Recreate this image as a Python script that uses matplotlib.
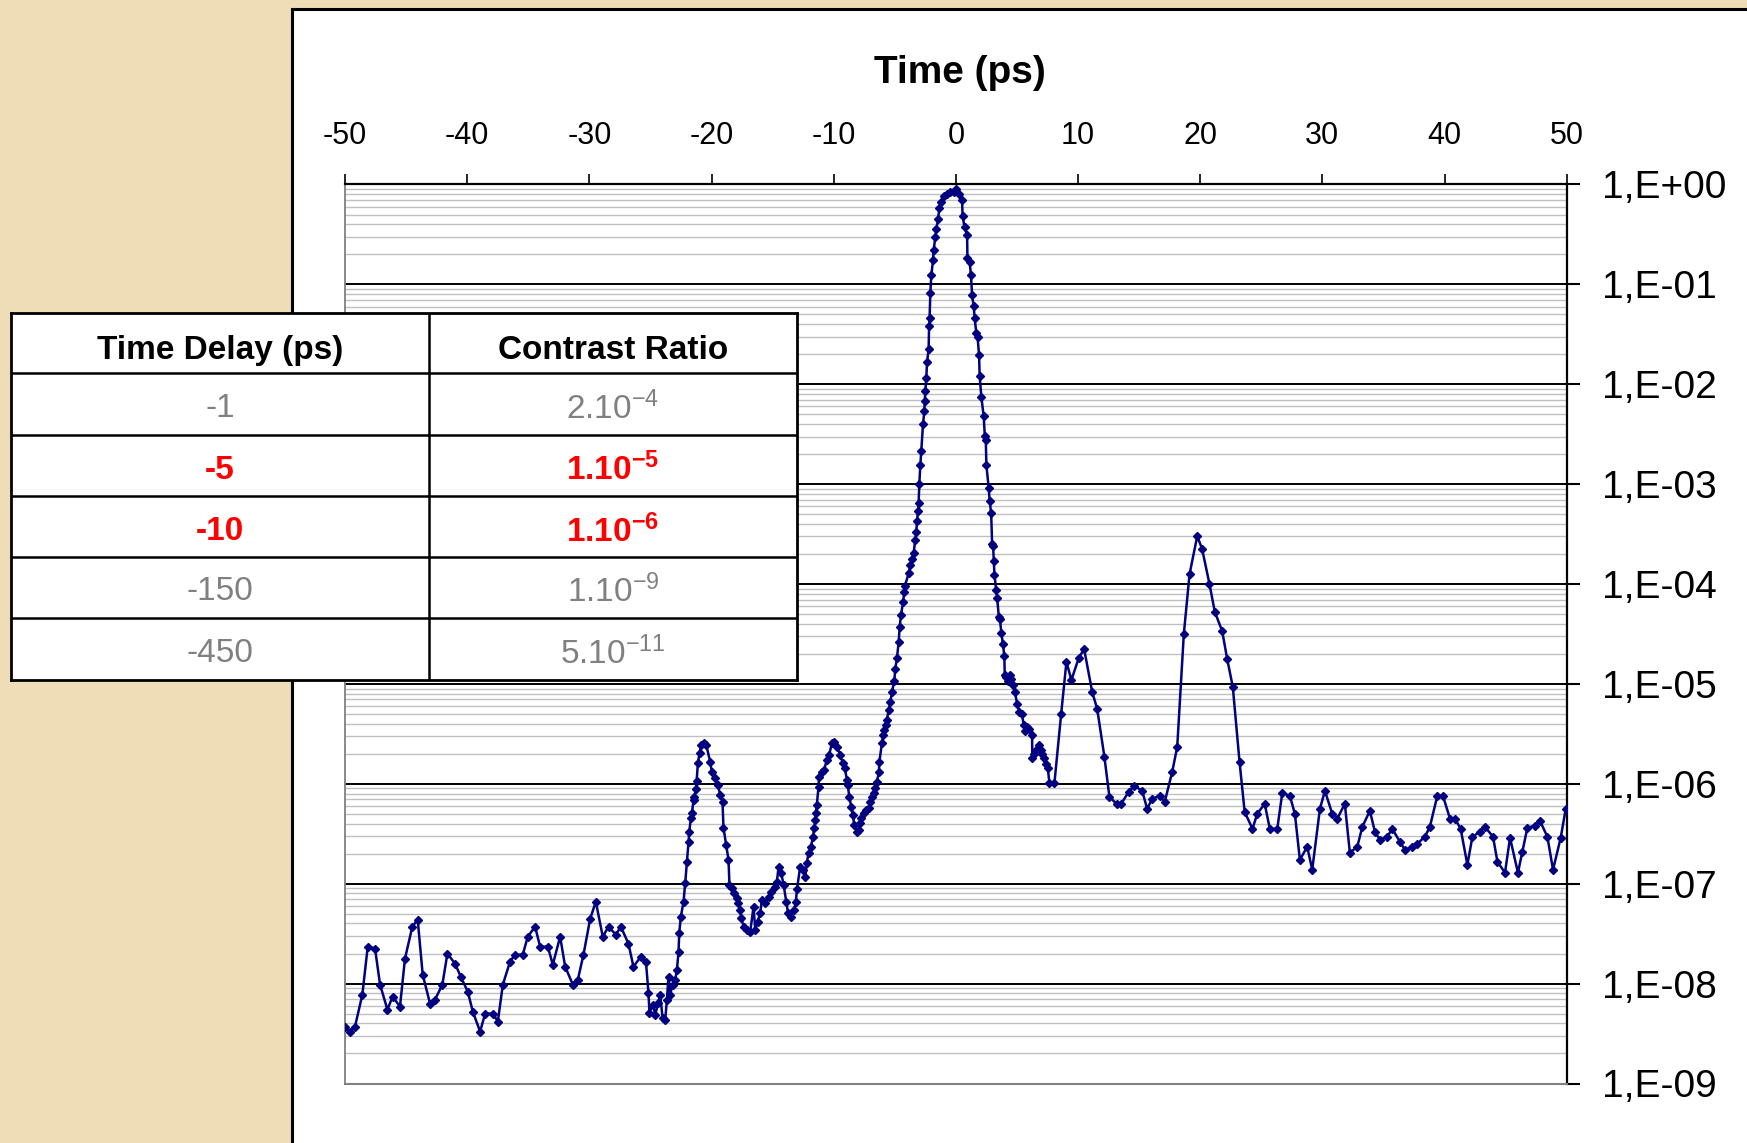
import numpy as np
import matplotlib.pyplot as plt
from matplotlib.patches import Rectangle
from matplotlib.ticker import FixedLocator, FixedFormatter, LogLocator, NullFormatter

plt.rcParams["font.family"] = ["Liberation Sans", "DejaVu Sans"]
plt.rcParams["mathtext.fontset"] = "custom"
plt.rcParams["mathtext.rm"] = "Liberation Sans"

# ===============================
# Data
# ===============================
time_ps = [
    -50.00, -49.59, -49.18, -48.58, -48.14, -47.54, -47.13, -46.53, -46.10, -45.50,
    -45.09, -44.49, -44.05, -43.64, -43.04, -42.63, -42.03, -41.62, -40.99, -40.53,
    -39.95, -39.54, -38.94, -38.53, -37.90, -37.49, -37.08, -36.49, -36.08, -35.45,
    -35.04, -34.44, -34.03, -33.40, -32.99, -32.39, -31.98, -31.35, -30.94, -30.48,
    -29.93, -29.47, -28.90, -28.43, -27.83, -27.42, -26.80, -26.39, -25.78, -25.37,
    -25.16, -25.08, -24.80, -24.61, -24.34, -24.20, -24.01, -23.79, -23.65, -23.52,
    -23.38, -23.19, -22.97, -22.83, -22.70, -22.64, -22.51, -22.29, -22.15, -22.01,
    -21.88, -21.82, -21.69, -21.60, -21.47, -21.40, -21.28, -21.22, -21.11, -20.98,
    -20.84, -20.65, -20.43,
    -20.11, -19.97, -19.75, -19.48, -19.29, -19.10, -19.02, -18.80, -18.61, -18.53,
    -18.34, -18.12, -17.93, -17.80, -17.65, -17.57, -17.37, -17.10, -16.83, -16.56,
    -16.42, -16.23, -16.01, -15.88, -15.60, -15.33, -15.14, -14.84, -14.65, -14.51,
    -14.30, -14.10, -13.88, -13.74, -13.50, -13.23, -13.10, -13.00, -12.74, -12.52,
    -12.33, -12.19, -12.06, -11.86, -11.70, -11.59, -11.51, -11.45, -11.38, -11.24,
    -11.20, -10.97, -10.78, -10.56, -10.37, -10.14, -9.95, -9.73, -9.46, -9.26,
    -9.10, -8.91, -8.85, -8.72, -8.56, -8.45, -8.31, -8.10, -7.90, -7.83,
    -7.75, -7.55, -7.35, -7.14, -7.00, -6.87, -6.73, -6.60, -6.46, -6.30,
    -6.26, -6.05, -5.95, -5.86, -5.75, -5.64,
    -5.50, -5.36, -5.23, -5.04, -4.96, -4.82, -4.68, -4.60, -4.49, -4.32,
    -4.22, -4.17, -3.86, -3.73, -3.59, -3.46, -3.32, -3.24, -3.18, -3.10,
    -3.05, -2.99, -2.91, -2.83, -2.69, -2.58, -2.55, -2.50, -2.42, -2.36,
    -2.23, -2.19, -2.15, -2.09, -2.01, -1.87, -1.82, -1.68, -1.60, -1.46,
    -1.35, -1.21, -1.00, -0.72, -0.45, -0.18, 0.04, 0.23, 0.51, 0.55,
    0.72, 0.92, 0.95, 1.13, 1.24, 1.33, 1.46, 1.54, 1.68, 1.78,
    1.90, 1.95, 2.09, 2.28, 2.37, 2.45, 2.50, 2.69, 2.77, 2.89,
    2.97, 3.05, 3.11, 3.16, 3.30, 3.38, 3.52, 3.60, 3.73, 3.85,
    3.97, 4.00, 4.12, 4.25, 4.41, 4.55, 4.69, 4.83, 5.02, 5.20,
    5.40, 5.56, 5.62, 5.83, 6.02, 6.24, 6.26, 6.40, 6.60, 6.79,
    6.93, 7.06, 7.20, 7.39, 7.52, 7.66, 8.07, 8.62, 9.05, 9.46,
    10.06, 10.50,
    11.16, 11.57, 12.16, 12.57, 13.15, 13.53, 14.15, 14.62, 15.25, 15.66,
    16.07, 16.67, 17.10, 17.71, 18.12, 18.66, 19.13, 19.76, 20.16, 20.76,
    21.20, 21.80, 22.21, 22.67, 23.22, 23.64, 24.28, 24.67, 25.28, 25.70,
    26.31, 26.72, 27.34, 27.75, 28.16, 28.76, 29.17, 29.80, 30.21, 30.81,
    31.22, 31.84, 32.25, 32.86, 33.27, 33.89, 34.30, 34.71, 35.31, 35.72,
    36.35, 36.76, 37.36, 37.77, 38.39, 38.80, 39.41, 39.87, 40.45, 40.86,
    41.32, 41.87, 42.28, 42.90, 43.31, 43.97, 44.33, 44.95, 45.36, 46.01,
    46.37, 46.78, 47.40, 47.81, 48.42, 48.88, 49.51, 49.92, 50.45,
]

# log10 of the contrast ratio for each time point
log_contrast = [
    -8.43, -8.48, -8.43, -8.11, -7.63, -7.65, -8.01, -8.26, -8.13, -8.23,
    -7.75, -7.43, -7.36, -7.91, -8.20, -8.16, -8.01, -7.70, -7.80, -7.93,
    -8.08, -8.28, -8.48, -8.30, -8.30, -8.38, -8.01, -7.78, -7.71, -7.71,
    -7.53, -7.43, -7.63, -7.63, -7.81, -7.53, -7.83, -8.01, -7.96, -7.71,
    -7.35, -7.18, -7.53, -7.43, -7.51, -7.43, -7.60, -7.83, -7.73, -7.78,
    -8.09, -8.29, -8.21, -8.31, -8.19, -8.11, -8.34, -8.36, -8.16, -7.93,
    -8.11, -8.01, -7.96, -7.86, -7.68, -7.49, -7.33, -7.18, -6.99, -6.78,
    -6.58, -6.48, -6.34, -6.29, -6.16, -6.13, -6.05, -5.97, -5.79, -5.69,
    -5.61, -5.59, -5.61,
    -5.78, -5.88, -5.94, -6.01, -6.11, -6.18, -6.44, -6.61, -6.76, -7.01,
    -7.04, -7.09, -7.14, -7.19, -7.26, -7.34, -7.43, -7.46, -7.48, -7.23,
    -7.46, -7.38, -7.29, -7.16, -7.19, -7.13, -7.08, -7.03, -6.98, -6.83,
    -6.89, -7.01, -7.18, -7.29, -7.33, -7.26, -7.18, -7.05, -6.83, -6.86,
    -6.93, -6.79, -6.69, -6.63, -6.53, -6.44, -6.36, -6.29, -6.21, -6.03,
    -5.93, -5.88, -5.86, -5.76, -5.71, -5.59, -5.58, -5.63, -5.71, -5.79,
    -5.84, -5.96, -6.01, -6.13, -6.23, -6.31, -6.41, -6.48, -6.46, -6.39,
    -6.34, -6.29, -6.26, -6.24, -6.18, -6.13, -6.09, -6.04, -5.98, -5.88,
    -5.78, -5.59, -5.51, -5.46, -5.41, -5.36,
    -5.26, -5.18, -5.08, -4.97, -4.85, -4.74, -4.58, -4.43, -4.31, -4.18,
    -4.08, -4.02, -3.89, -3.81, -3.75, -3.69, -3.56, -3.48, -3.37, -3.27,
    -3.19, -3.00, -2.81, -2.67, -2.40, -2.27, -2.17, -2.07, -1.94, -1.78,
    -1.65, -1.42, -1.34, -1.09, -0.91, -0.76, -0.66, -0.53, -0.45, -0.35,
    -0.24, -0.18, -0.12, -0.10, -0.08, -0.08, -0.05, -0.10, -0.16, -0.32,
    -0.43, -0.51, -0.74, -0.78, -0.91, -1.11, -1.22, -1.34, -1.49, -1.53,
    -1.71, -1.92, -2.13, -2.32, -2.52, -2.56, -2.81, -3.04, -3.17, -3.29,
    -3.60, -3.62, -3.77, -3.91, -4.06, -4.14, -4.33, -4.35, -4.49, -4.60,
    -4.72, -4.91, -4.93, -4.97, -4.91, -4.95, -5.01, -5.08, -5.20, -5.28,
    -5.30, -5.41, -5.47, -5.43, -5.45, -5.51, -5.74, -5.70, -5.66, -5.61,
    -5.66, -5.70, -5.74, -5.80, -5.84, -5.99, -5.99, -5.30, -4.78, -4.96,
    -4.74, -4.65,
    -5.08, -5.25, -5.73, -6.13, -6.20, -6.20, -6.08, -6.02, -6.07, -6.25,
    -6.15, -6.12, -6.18, -5.88, -5.63, -4.50, -3.90, -3.52, -3.65, -4.00,
    -4.28, -4.47, -4.75, -5.03, -5.78, -6.28, -6.45, -6.30, -6.20, -6.45,
    -6.45, -6.09, -6.12, -6.30, -6.76, -6.63, -6.86, -6.25, -6.07, -6.30,
    -6.35, -6.20, -6.69, -6.63, -6.43, -6.27, -6.48, -6.56, -6.53, -6.45,
    -6.58, -6.66, -6.63, -6.60, -6.53, -6.43, -6.12, -6.12, -6.35, -6.35,
    -6.45, -6.81, -6.53, -6.48, -6.43, -6.53, -6.78, -6.89, -6.54, -6.89,
    -6.68, -6.44, -6.42, -6.37, -6.53, -6.86, -6.54, -6.25, -6.29,
]

contrast = 10.0 ** np.array(log_contrast)

x_ticks = [-50, -40, -30, -20, -10, 0, 10, 20, 30, 40, 50]
y_exponents = [0, -1, -2, -3, -4, -5, -6, -7, -8, -9]
y_labels = ["1,E+00", "1,E-01", "1,E-02", "1,E-03", "1,E-04",
            "1,E-05", "1,E-06", "1,E-07", "1,E-08", "1,E-09"]

table_header = ["Time Delay (ps)", "Contrast Ratio"]
table_delay = ["-1", "-5", "-10", "-150", "-450"]
table_ratio = [r"$\mathregular{2.10^{-4}}$", r"$\mathregular{1.10^{-5}}$",
               r"$\mathregular{1.10^{-6}}$", r"$\mathregular{1.10^{-9}}$",
               r"$\mathregular{5.10^{-11}}$"]
table_highlight = [False, True, True, False, False]

# ===============================
# Frame
# ===============================
W, H = 1747, 1143
fig = plt.figure(figsize=(W / 100, H / 100), dpi=100)
fig.patch.set_facecolor("#EFDDB7")

# white slide panel with black border (runs off right/bottom)
fig.patches.append(Rectangle((292 / W, -0.05), 1.0, 1.05 - 9 / H,
                             transform=fig.transFigure, facecolor="white",
                             edgecolor="black", linewidth=2.2, zorder=-5))

# ---------- Chart ----------
ax = fig.add_axes([345 / W, 1 - 1083.5 / H, (1566.7 - 345) / W, (1083.5 - 184.5) / H])
ax.set_facecolor("white")
ax.set_yscale("log")
ax.set_xlim(-50, 50)
ax.set_ylim(1e-9, 1)

ax.plot(time_ps, contrast, color="#000080", linewidth=1.8, marker="D",
        markersize=4, markerfacecolor="#000080", markeredgecolor="#000080",
        zorder=3)

ax.yaxis.set_major_locator(FixedLocator([10.0 ** e for e in y_exponents]))
ax.yaxis.set_major_formatter(FixedFormatter(y_labels))
ax.yaxis.set_minor_locator(LogLocator(base=10, subs=np.arange(2, 10), numticks=100))
ax.yaxis.set_minor_formatter(NullFormatter())
ax.yaxis.tick_right()
ax.set_xticks(x_ticks)
ax.set_xticklabels([str(v) for v in x_ticks])
ax.xaxis.tick_top()

ax.set_axisbelow(True)
ax.grid(which="minor", axis="y", color="#C0C0C0", linewidth=1.0)
ax.grid(which="major", axis="y", color="black", linewidth=1.4)
ax.grid(which="both", axis="x", visible=False)

ax.tick_params(axis="y", which="major", direction="out", length=9.5, width=1.5,
               pad=16, labelsize=28, colors="black")
ax.tick_params(axis="y", which="minor", length=0)
ax.tick_params(axis="x", which="major", direction="out", length=7, width=1.2,
               pad=17, labelsize=22, colors="black")

ax.spines["top"].set_color("black")
ax.spines["top"].set_linewidth(1.6)
ax.spines["right"].set_color("black")
ax.spines["right"].set_linewidth(1.6)
ax.spines["left"].set_color("#808080")
ax.spines["left"].set_linewidth(1.3)
ax.spines["bottom"].set_color("#808080")
ax.spines["bottom"].set_linewidth(1.5)

fig.text(959.7 / W, 1 - 82.7 / H, "Time (ps)", fontsize=28, fontweight="bold",
         ha="center", va="baseline", color="black")

# ---------- Table ----------
tab = fig.add_axes([11 / W, 1 - 680 / H, 786 / W, 367 / H])
tab.set_xlim(0, 786)
tab.set_ylim(367, 0)
tab.set_facecolor("white")
tab.set_xticks([])
tab.set_yticks([])
for s in tab.spines.values():
    s.set_color("black")
    s.set_linewidth(2.0)

for yb in [60.3, 122, 183, 244.3, 305.3]:
    tab.axhline(yb, color="black", linewidth=1.8)
tab.axvline(417.6, color="black", linewidth=1.8)

col_x = [209, 602]
row_y = [92, 153.7, 215, 275, 337]

for cx, txt in zip(col_x, table_header):
    tab.text(cx, 33.7, txt, fontsize=24, fontweight="bold", color="black",
             ha="center", va="center_baseline")

for ry, d, r, hl in zip(row_y, table_delay, table_ratio, table_highlight):
    col = "#FF0000" if hl else "#808080"
    wt = "bold" if hl else "normal"
    tab.text(col_x[0], ry, d, fontsize=24, fontweight=wt, color=col,
             ha="center", va="center_baseline")
    tab.text(col_x[1], ry, r, fontsize=24, fontweight=wt, color=col,
             ha="center", va="center_baseline")

fig.savefig("out.png", dpi=100, facecolor=fig.get_facecolor())
